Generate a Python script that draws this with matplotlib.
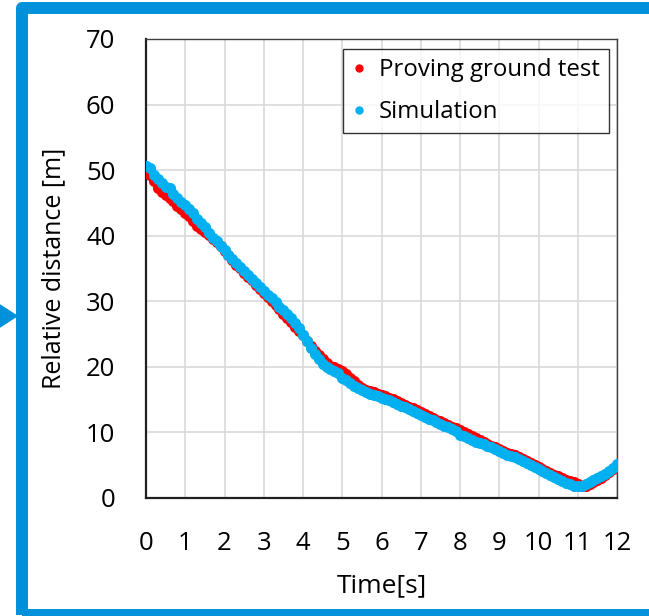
import numpy as np
import matplotlib.pyplot as plt
from matplotlib.patches import Rectangle, Polygon

# Sample times [s], 0.1 s step
time = np.round(np.arange(0, 12.01, 0.1), 1)

# Relative distance [m]
proving_ground = [
    49.6, 49.2, 48.3, 47.3, 46.6, 46.2, 45.8, 45.3, 44.6, 44.0,
    43.5, 43.0, 42.2, 41.5, 41.0, 40.6, 40.1, 39.5, 39.0, 38.4,
    37.6, 37.0, 36.3, 35.6, 35.0, 34.3, 33.7, 33.2, 32.5, 31.9,
    31.2, 30.6, 30.0, 29.4, 28.8, 28.1, 27.4, 26.8, 26.1, 25.4,
    24.8, 24.0, 23.2, 22.4, 21.8, 21.2, 20.6, 20.2, 19.9, 19.6,
    19.4, 18.9, 18.3, 17.8, 17.3, 16.8, 16.5, 16.3, 16.1, 15.9,
    15.7, 15.5, 15.3, 15.1, 14.8, 14.5, 14.2, 13.9, 13.7, 13.4,
    13.1, 12.8, 12.5, 12.2, 11.9, 11.7, 11.4, 11.1, 10.9, 10.6,
    10.3, 10.0, 9.7, 9.4, 9.1, 8.8, 8.5, 8.3, 8.0, 7.7,
    7.4, 7.2, 6.9, 6.7, 6.5, 6.2, 5.9, 5.6, 5.3, 5.0,
    4.7, 4.4, 4.1, 3.8, 3.5, 3.3, 3.0, 2.8, 2.6, 2.4,
    2.2, 1.9, 1.9, 2.2, 2.5, 2.8, 3.1, 3.5, 3.9, 4.4,
    5.0,
]
simulation = [
    50.6, 50.4, 49.3, 48.6, 48.0, 47.5, 47.2, 46.4, 45.8, 45.2,
    44.7, 44.1, 43.4, 42.6, 42.0, 41.4, 40.4, 39.7, 39.2, 38.5,
    37.8, 37.1, 36.5, 35.8, 35.2, 34.6, 34.0, 33.4, 32.8, 32.2,
    31.6, 31.0, 30.5, 29.9, 29.2, 28.6, 28.0, 27.4, 26.7, 25.9,
    24.9, 23.9, 22.9, 22.0, 21.2, 20.5, 20.0, 19.7, 19.4, 19.1,
    18.3, 18.0, 17.5, 17.1, 16.7, 16.4, 16.1, 15.9, 15.7, 15.5,
    15.3, 15.1, 14.9, 14.7, 14.4, 14.1, 13.8, 13.5, 13.2, 12.9,
    12.7, 12.4, 12.1, 11.9, 11.6, 11.3, 11.0, 10.8, 10.5, 10.2,
    9.6, 9.4, 9.1, 8.9, 8.6, 8.4, 8.2, 7.9, 7.7, 7.4,
    7.1, 6.8, 6.6, 6.4, 6.2, 5.9, 5.6, 5.3, 5.0, 4.7,
    4.4, 4.1, 3.8, 3.5, 3.2, 2.9, 2.6, 2.3, 2.1, 1.9,
    1.8, 1.9, 2.1, 2.4, 2.7, 3.0, 3.3, 3.7, 4.1, 4.6,
    5.2,
]

x_ticks = list(range(0, 13))
y_ticks = list(range(0, 71, 10))

plt.rcParams['font.family'] = ['Open Sans', 'DejaVu Sans']

fig = plt.figure(figsize=(6.49, 6.16), dpi=100)
ax = fig.add_axes([0.225, 0.1916, 0.7257, 0.7451])

ax.plot(time, proving_ground, 'o', color='#ff0000', ms=8, mew=0,
        label='Proving ground test', zorder=3)
ax.plot(time, simulation, 'o', color='#00b0f0', ms=8, mew=0,
        label='Simulation', zorder=4)

ax.set_xlim(0, 12)
ax.set_ylim(0, 70)
ax.set_xticks(x_ticks)
ax.set_yticks(y_ticks)
ax.grid(True, color='#d9d9d9', lw=1.2)
ax.set_axisbelow(True)
ax.tick_params(length=0, labelsize=18.5)
ax.tick_params(axis='y', pad=22)
ax.tick_params(axis='x', pad=24)
for side in ['top', 'right']:
    ax.spines[side].set_color('#404040')
    ax.spines[side].set_linewidth(1.0)
for side in ['left', 'bottom']:
    ax.spines[side].set_color('#202020')
    ax.spines[side].set_linewidth(1.6)

ax.set_xlabel('Time[s]', fontsize=19, labelpad=12)
ax.set_ylabel('Relative distance [m]', fontsize=18, labelpad=14)

leg = ax.legend(loc='upper right', bbox_to_anchor=(0.983, 0.978),
                fontsize=17.3, frameon=True, fancybox=False,
                handlelength=0.5, handletextpad=0.6, markerscale=0.75,
                borderpad=0.38, labelspacing=0.75, borderaxespad=0)
leg.get_frame().set_edgecolor('black')
leg.get_frame().set_linewidth(1.0)

# blue frame around the chart (right side runs off the image)
frame = Rectangle((0.22, 0.01), 7.0, 6.07, transform=fig.dpi_scale_trans,
                  fill=False, edgecolor='#0091da', linewidth=8.6,
                  joinstyle='round')
fig.add_artist(frame)
arrow = Polygon([(0, 3.11), (0.17, 3.0), (0, 2.89)], closed=True,
                transform=fig.dpi_scale_trans, color='#0091da')
fig.add_artist(arrow)

fig.savefig('out.png', dpi=100)
